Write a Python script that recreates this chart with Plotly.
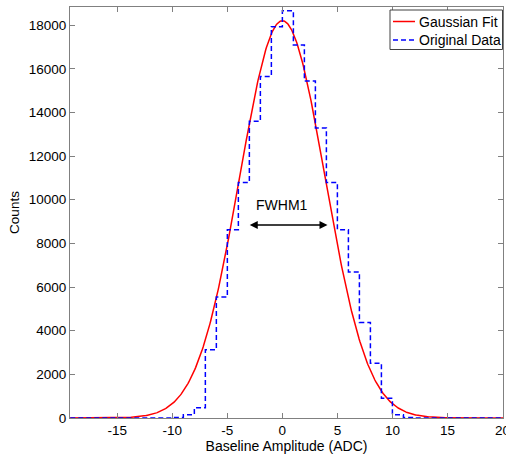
import numpy as np
import plotly.graph_objects as go

# Histogram (stairs): left bin edges and counts
bin_edges = list(range(-20, 22))
counts = [0, 0, 0, 0, 0, 0, 0, 0, 0, 0,
          20, 150, 470, 3130, 5540, 8630, 10790, 13590, 15650, 17930,
          18660, 17090, 15440, 13290, 10790, 8630, 6690, 4380, 2510, 900,
          150, 20, 0, 0, 0, 0, 0, 0, 0, 0, 0]
counts = counts + [counts[-1]]  # closing point for the stairs

# Gaussian fit parameters
fit_amplitude = 18200
fit_mean = 0.0
fit_sigma = 3.88
fit_x = np.linspace(-20, 21, 600)
fit_y = fit_amplitude * np.exp(-((fit_x - fit_mean) ** 2) / (2 * fit_sigma ** 2))

# FWHM arrow and label
fwhm_left, fwhm_right, fwhm_level = -3.1, 4.1, 8840
fwhm_label, fwhm_label_x, fwhm_label_y = "FWHM1", -0.05, 9760

x_ticks = [-15, -10, -5, 0, 5, 10, 15, 20]
y_ticks = list(range(0, 18001, 2000))

series_names = ["Gaussian Fit", "Original Data"]
series_colors = ["#ff0000", "#0000ff"]
series_dashes = ["solid", "5px,3px"]

FONT = "Liberation Sans, Arial, Helvetica, sans-serif"
AXIS_GREY = "#808080"

# layout geometry (pixels)
W, H = 506, 460
ML, MR, MT, MB = 70, 3, 7, 42
PW, PH = W - ML - MR, H - MT - MB


def px_x(px):
    return (px - ML) / PW


def px_y(py):
    return (H - MB - py) / PH


fig = go.Figure()
fig.add_trace(go.Scatter(
    x=fit_x, y=fit_y, mode="lines", name=series_names[0], showlegend=False,
    line=dict(color=series_colors[0], width=1.5)))
fig.add_trace(go.Scatter(
    x=bin_edges, y=counts, mode="lines", name=series_names[1], showlegend=False,
    line=dict(color=series_colors[1], width=1.5, dash=series_dashes[1], shape="hv")))

fig.add_annotation(
    x=fwhm_right, y=fwhm_level, ax=fwhm_left, ay=fwhm_level,
    xref="x", yref="y", axref="x", ayref="y", text="",
    showarrow=True, arrowside="end+start", arrowhead=2, arrowsize=1,
    arrowwidth=1.6, arrowcolor="#000000", standoff=0, startstandoff=0)
fig.add_annotation(
    x=fwhm_label_x, y=fwhm_label_y, xref="x", yref="y", text=fwhm_label,
    showarrow=False, font=dict(family=FONT, size=14, color="#000000"))

# legend box drawn in paper coordinates (MATLAB style)
fig.add_shape(type="rect", xref="paper", yref="paper",
              x0=px_x(390), x1=px_x(502.5), y0=px_y(49.5), y1=px_y(10),
              line=dict(color="#404040", width=1), fillcolor="white", layer="above")
for i, (name, col, dsh) in enumerate(zip(series_names, series_colors, series_dashes)):
    ly = 21.5 + i * 18.5
    fig.add_shape(type="line", xref="paper", yref="paper",
                  x0=px_x(393), x1=px_x(415), y0=px_y(ly), y1=px_y(ly),
                  line=dict(color=col, width=1.5, dash=dsh), layer="above")
    fig.add_annotation(x=px_x(416.5), y=px_y(ly), xref="paper", yref="paper",
                       text=name, showarrow=False, xanchor="left", yanchor="middle",
                       font=dict(family=FONT, size=14, color="#000000"))

fig.update_layout(
    width=W, height=H,
    margin=dict(l=ML, r=MR, t=MT, b=MB, autoexpand=False),
    paper_bgcolor="white", plot_bgcolor="white",
    font=dict(family=FONT, size=13.5, color="#000000"),
    showlegend=False,
)
fig.update_xaxes(
    range=[-19.3, 20.05], tickvals=x_ticks, ticktext=[str(v) for v in x_ticks],
    ticks="inside", ticklen=5, ticklabeloverflow="allow", automargin=False,
    tickcolor=AXIS_GREY, showline=True, linecolor=AXIS_GREY, linewidth=1,
    mirror="ticks", showgrid=False, zeroline=False,
    title=dict(text="Baseline Amplitude (ADC)", standoff=0, font=dict(size=14)))
fig.update_yaxes(
    range=[0, 18830], tickvals=y_ticks, ticktext=[str(v) for v in y_ticks],
    ticks="inside", ticklen=5, automargin=False,
    tickcolor=AXIS_GREY, showline=True, linecolor=AXIS_GREY, linewidth=1,
    mirror="ticks", showgrid=False, zeroline=False,
    title=dict(text="Counts", standoff=6, font=dict(size=13.5)))

fig.write_html(
    "out.html",
    config={"displayModeBar": False},
    post_script="document.body.style.margin='0';document.body.style.padding='0';")
